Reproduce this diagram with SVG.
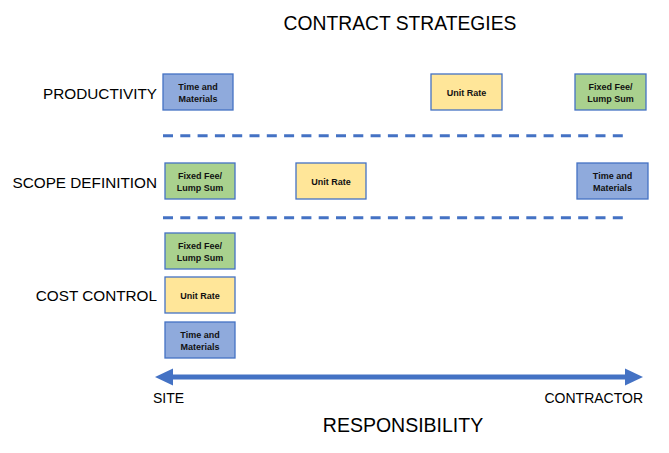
<svg xmlns="http://www.w3.org/2000/svg" width="669" height="453" viewBox="0 0 669 453">
<style>
.lbl{font-family:"Liberation Sans",Arial,sans-serif;fill:#000}
.row{font-size:15.3px;text-anchor:end}
.box rect{stroke:#4472C4;stroke-width:1.3}
.box text{font-family:"Liberation Sans",Arial,sans-serif;font-weight:bold;font-size:9px;fill:#111;text-anchor:middle}
.tm{fill:#8FAADC}
.ff{fill:#A9D18E}
.ur{fill:#FFE699}
.dash{stroke:#4472C4;stroke-width:3;stroke-dasharray:10 7.3;fill:none}
</style>
<rect width="669" height="453" fill="#fff"/>
<text class="lbl" x="400" y="30" font-size="19.3" text-anchor="middle">CONTRACT STRATEGIES</text>
<text class="lbl row" x="157" y="99">PRODUCTIVITY</text>
<text class="lbl row" x="157" y="188">SCOPE DEFINITION</text>
<text class="lbl row" x="157" y="301">COST CONTROL</text>
<g id="connectors">
<line class="dash" x1="163" y1="135.7" x2="627" y2="135.7"/>
<line class="dash" x1="163" y1="217.7" x2="627" y2="217.7"/>
<g id="responsibility-arrow" fill="#4472C4">
<rect x="170" y="374.5" width="457" height="5"/>
<polygon points="155,377 173,368.5 173,385.5"/>
<polygon points="643,377 625,368.5 625,385.5"/>
</g>
</g>
<g id="prod-tm" class="box"><rect class="tm" x="163" y="74" width="70" height="36"/><text x="198" y="90">Time and</text><text x="198" y="101.5">Materials</text></g>
<g id="prod-ur" class="box"><rect class="ur" x="431" y="74" width="71" height="36"/><text x="466.5" y="95.5">Unit Rate</text></g>
<g id="prod-ff" class="box"><rect class="ff" x="575" y="74" width="71" height="36"/><text x="610.5" y="90">Fixed Fee/</text><text x="610.5" y="101.5">Lump Sum</text></g>
<g id="scope-ff" class="box"><rect class="ff" x="165" y="163" width="70" height="36"/><text x="200" y="179">Fixed Fee/</text><text x="200" y="190.5">Lump Sum</text></g>
<g id="scope-ur" class="box"><rect class="ur" x="296" y="163" width="70" height="36"/><text x="331" y="184.5">Unit Rate</text></g>
<g id="scope-tm" class="box"><rect class="tm" x="577" y="163" width="71" height="36"/><text x="612.5" y="179">Time and</text><text x="612.5" y="190.5">Materials</text></g>
<g id="cost-ff" class="box"><rect class="ff" x="165" y="233" width="70" height="36"/><text x="200" y="249">Fixed Fee/</text><text x="200" y="260.5">Lump Sum</text></g>
<g id="cost-ur" class="box"><rect class="ur" x="165" y="277" width="70" height="36"/><text x="200" y="298.5">Unit Rate</text></g>
<g id="cost-tm" class="box"><rect class="tm" x="165" y="322" width="70" height="36"/><text x="200" y="338">Time and</text><text x="200" y="349.5">Materials</text></g>
<text class="lbl" x="153" y="403" font-size="14">SITE</text>
<text class="lbl" x="643" y="403" font-size="14" text-anchor="end">CONTRACTOR</text>
<text class="lbl" x="403" y="432" font-size="19.5" text-anchor="middle">RESPONSIBILITY</text>
</svg>
